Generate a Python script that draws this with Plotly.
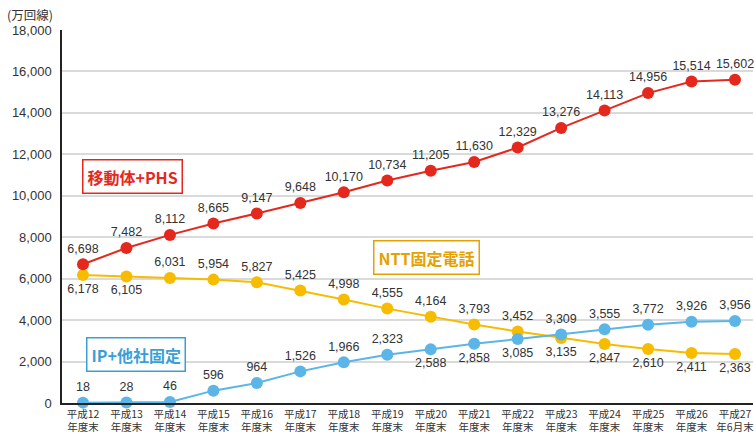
import plotly.graph_objects as go

categories = ["平成12<br>年度末", "平成13<br>年度末", "平成14<br>年度末", "平成15<br>年度末",
              "平成16<br>年度末", "平成17<br>年度末", "平成18<br>年度末", "平成19<br>年度末",
              "平成20<br>年度末", "平成21<br>年度末", "平成22<br>年度末", "平成23<br>年度末",
              "平成24<br>年度末", "平成25<br>年度末", "平成26<br>年度末", "平成27<br>年6月末"]
mobile = [6698, 7482, 8112, 8665, 9147, 9648, 10170, 10734, 11205, 11630, 12329, 13276,
          14113, 14956, 15514, 15602]
ntt = [6178, 6105, 6031, 5954, 5827, 5425, 4998, 4555, 4164, 3793, 3452, 3135,
       2847, 2610, 2411, 2363]
ip = [18, 28, 46, 596, 964, 1526, 1966, 2323, 2588, 2858, 3085, 3309,
      3555, 3772, 3926, 3956]
y_ticks = [0, 2000, 4000, 6000, 8000, 10000, 12000, 14000, 16000, 18000]

RED = "#E5281E"
ORANGE = "#F7BC00"
BLUE = "#5BB5E6"
TXT = "#333333"
LAT = "Liberation Sans, Arial, sans-serif"
CJK = "Noto Sans CJK JP, sans-serif"

W, H = 755, 439
ML, MR, MT, MB = 62, 2, 30, 36
PW = W - ML - MR
PH = H - MT - MB

x = list(range(len(categories)))

ntt_pos = ["bottom center"] * 2 + ["top center"] * 9 + ["bottom center"] * 5
ip_pos = ["top center"] * 8 + ["bottom center"] * 3 + ["top center"] * 5

fig = go.Figure()
for vals, col, pos in [(ntt, ORANGE, ntt_pos), (ip, BLUE, ip_pos), (mobile, RED, "top center")]:
    fig.add_trace(go.Scatter(x=x, y=vals, mode="lines+markers+text",
                             line=dict(color=col, width=2),
                             marker=dict(color=col, size=12),
                             text=[f"{v:,}" for v in vals], textposition=pos,
                             cliponaxis=False,
                             textfont=dict(size=12.5, color=TXT, family=LAT)))

fig.update_layout(
    width=W, height=H,
    margin=dict(l=ML, r=MR, t=MT, b=MB, autoexpand=False),
    paper_bgcolor="white", plot_bgcolor="white",
    showlegend=False,
    font=dict(family=LAT, color=TXT),
)
fig.update_xaxes(
    tickmode="array", tickvals=x, ticktext=categories,
    tickfont=dict(family=CJK, size=10.5, color=TXT),
    range=[-0.483, 15.414],
    showgrid=False, zeroline=False,
    showline=True, linecolor="#222222", linewidth=2,
    ticks="", ticklen=0, ticklabeloverflow="allow",
)
fig.update_yaxes(
    range=[0, 18000], tickvals=y_ticks, tickformat=",",
    tickfont=dict(family=LAT, size=13, color=TXT),
    showgrid=True, gridcolor="#DADADA", gridwidth=1.5,
    zeroline=False,
    showline=True, linecolor="#222222", linewidth=1.5,
    ticks="", ticklabelstandoff=6,
)

fig.add_annotation(text="(万回線)", xref="paper", yref="paper", x=(5 - ML) / PW, y=1 + (MT - 3) / PH,
                   xanchor="left", yanchor="top", showarrow=False,
                   font=dict(family=CJK, size=12.5, color=TXT))

def box(text, color, px, py):
    fig.add_annotation(text=f"<b>{text}</b>", xref="paper", yref="paper",
                       x=(px - ML) / PW, y=(H - MB - py) / PH,
                       xanchor="center", yanchor="middle", showarrow=False,
                       font=dict(family=CJK, size=16, color=color),
                       bordercolor=color, borderwidth=1.5, borderpad=4, bgcolor="white")

box("移動体+PHS", RED, 132, 176)
box("NTT固定電話", "#E5A100", 426, 257)
box("IP+他社固定", "#3A9FD6", 136, 354)

fig.write_html("out.html",
               config={"displayModeBar": False},
               post_script="document.body.style.margin='0';document.body.style.overflow='hidden';")
